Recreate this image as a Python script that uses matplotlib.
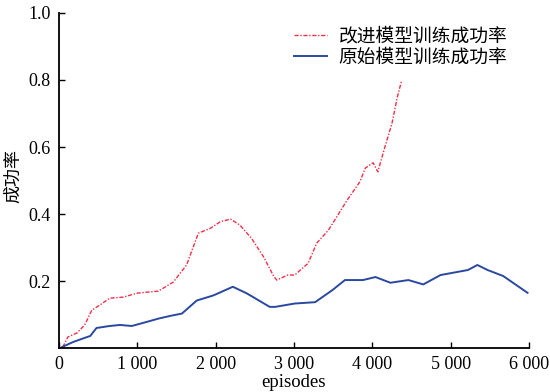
import matplotlib
matplotlib.use("Agg")
import matplotlib.pyplot as plt

improved_x = [50, 115, 230, 330, 420, 520, 650, 820, 1000, 1270, 1460, 1630, 1780, 1930, 2060, 2190,
              2310, 2460, 2610, 2740, 2780, 2920, 3010, 3180, 3290, 3440, 3680, 3840, 3910, 4010, 4070,
              4160, 4250, 4320, 4370]
improved_y = [0.003, 0.033, 0.045, 0.069, 0.113, 0.128, 0.149, 0.152, 0.164, 0.170, 0.197, 0.248, 0.343,
              0.357, 0.377, 0.385, 0.367, 0.327, 0.273, 0.215, 0.203, 0.218, 0.218, 0.253, 0.313, 0.352,
              0.442, 0.496, 0.537, 0.553, 0.526, 0.600, 0.670, 0.750, 0.795]

orig_x = [40, 180, 360, 400, 480, 650, 780, 930, 1120, 1270, 1420, 1570, 1760, 1970, 2220, 2400, 2690,
          2760, 3010, 3270, 3490, 3650, 3880, 4040, 4230, 4460, 4650, 4870, 5220, 5340, 5470, 5670, 5800,
          5980]
orig_y = [0.003, 0.018, 0.033, 0.036, 0.060, 0.066, 0.069, 0.066, 0.078, 0.088, 0.096, 0.103, 0.142,
          0.157, 0.183, 0.163, 0.123, 0.123, 0.133, 0.137, 0.173, 0.203, 0.203, 0.212, 0.195, 0.203,
          0.190, 0.218, 0.233, 0.248, 0.233, 0.215, 0.194, 0.165]

x_ticks = [0, 1000, 2000, 3000, 4000, 5000, 6000]
x_tick_labels = ["0", "1 000", "2 000", "3 000", "4 000", "5 000", "6 000"]
y_ticks = [0.2, 0.4, 0.6, 0.8, 1.0]
y_tick_labels = ["0.2", "0.4", "0.6", "0.8", "1.0"]
labels = ["改进模型训练成功率", "原始模型训练成功率"]

cjk = ["Noto Sans CJK SC", "DejaVu Sans"]
serif = ["Liberation Serif", "DejaVu Serif"]

fig = plt.figure(figsize=(5.5, 3.92), dpi=100)
ax = fig.add_axes([0.107, 0.112, 0.855, 0.855])
ax.plot(improved_x, improved_y, color="#f0304a", lw=1.0, ls=(0, (3, 1.2, 1, 1.2)), label=labels[0])
ax.plot(orig_x, orig_y, color="#2a48a0", lw=1.4, label=labels[1])

ax.set_xlim(0, 6000)
ax.set_ylim(0, 1.0)
ax.set_xticks(x_ticks)
ax.set_xticklabels(x_tick_labels, fontfamily=serif, fontsize=13)
ax.set_yticks(y_ticks)
ax.set_yticklabels(y_tick_labels, fontfamily=serif, fontsize=13)
ax.tick_params(direction="in", length=4, width=1, pad=6)
for s in ["top", "right"]:
    ax.spines[s].set_visible(False)
for s in ["left", "bottom"]:
    ax.spines[s].set_linewidth(1.3)

ax.set_xlabel("episodes", fontfamily=serif, fontsize=13.5)
ax.xaxis.set_label_coords(0.5, -0.076)
ax.set_ylabel("成功率", fontfamily=cjk, fontsize=13)
ax.yaxis.set_label_coords(-0.079, 0.513)

leg = ax.legend(loc="upper right", bbox_to_anchor=(0.97, 0.985), frameon=False,
                prop={"family": cjk, "size": 13.5}, handlelength=1.8, handletextpad=0.6,
                labelspacing=0.0, borderaxespad=0.0)

fig.savefig("out.png", dpi=100)
